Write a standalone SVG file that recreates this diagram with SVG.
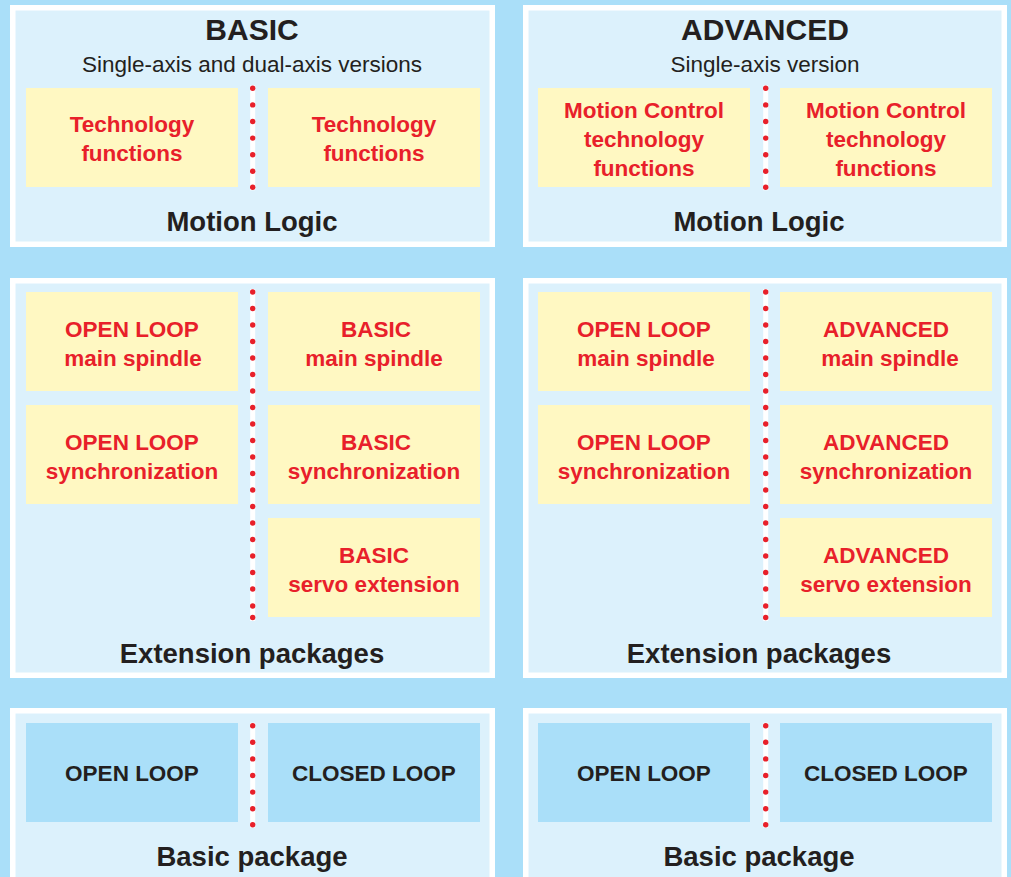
<svg xmlns="http://www.w3.org/2000/svg" width="1011" height="877" viewBox="0 0 1011 877">
<style>
.bg{fill:#aadff9}
.panel{fill:#dcf1fc;stroke:#ffffff;stroke-width:5.5}
.ybox{fill:#fff8c2}
.bbox{fill:#aadff9}
.sep{stroke:#ffffff;stroke-width:5}
.dot{fill:#e8202a}
text{font-family:"Liberation Sans",Arial,sans-serif;text-anchor:middle}
.title{font-size:30px;font-weight:bold;fill:#231f20}
.sub{font-size:22.5px;fill:#231f20}
.red{font-size:22.5px;font-weight:bold;fill:#e8202a}
.dark{font-size:22.5px;font-weight:bold;fill:#231f20}
.foot{font-size:27.5px;font-weight:bold;fill:#231f20}
</style>
<defs>
<g id="dots7"><line class="sep" x1="0" y1="-3" x2="0" y2="102"/><circle class="dot" cx="0" cy="0" r="2.7"/><circle class="dot" cx="0" cy="16.6" r="2.7"/><circle class="dot" cx="0" cy="33.2" r="2.7"/><circle class="dot" cx="0" cy="49.8" r="2.7"/><circle class="dot" cx="0" cy="66.4" r="2.7"/><circle class="dot" cx="0" cy="83" r="2.7"/><circle class="dot" cx="0" cy="99" r="2.7"/></g>
<g id="dots20"><line class="sep" x1="0" y1="-3" x2="0" y2="329"/><circle class="dot" cx="0" cy="0" r="2.7"/><circle class="dot" cx="0" cy="16.5" r="2.7"/><circle class="dot" cx="0" cy="33" r="2.7"/><circle class="dot" cx="0" cy="49.5" r="2.7"/><circle class="dot" cx="0" cy="66" r="2.7"/><circle class="dot" cx="0" cy="82.5" r="2.7"/><circle class="dot" cx="0" cy="99" r="2.7"/><circle class="dot" cx="0" cy="115.5" r="2.7"/><circle class="dot" cx="0" cy="132" r="2.7"/><circle class="dot" cx="0" cy="148.5" r="2.7"/><circle class="dot" cx="0" cy="165" r="2.7"/><circle class="dot" cx="0" cy="181.5" r="2.7"/><circle class="dot" cx="0" cy="198" r="2.7"/><circle class="dot" cx="0" cy="214.5" r="2.7"/><circle class="dot" cx="0" cy="231" r="2.7"/><circle class="dot" cx="0" cy="247.5" r="2.7"/><circle class="dot" cx="0" cy="264" r="2.7"/><circle class="dot" cx="0" cy="280.5" r="2.7"/><circle class="dot" cx="0" cy="297" r="2.7"/><circle class="dot" cx="0" cy="314" r="2.7"/><circle class="dot" cx="0" cy="325.5" r="2.7"/></g>
</defs>
<rect class="bg" x="0" y="0" width="1011" height="877"/>

<!-- Top left panel -->
<g id="basic-motion-logic">
<rect class="panel" x="12.75" y="7.75" width="479.5" height="236.5"/>
<text class="title" x="252" y="40">BASIC</text>
<text class="sub" x="252" y="72">Single-axis and dual-axis versions</text>
<text class="foot" x="252" y="231">Motion Logic</text>
</g>
<g id="basic-tf-1"><rect class="ybox" x="26" y="88" width="212" height="99"/><text class="red" x="132" y="132">Technology</text><text class="red" x="132" y="161">functions</text></g>
<g id="basic-tf-2"><rect class="ybox" x="268" y="88" width="212" height="99"/><text class="red" x="374" y="132">Technology</text><text class="red" x="374" y="161">functions</text></g>

<!-- Top right panel -->
<g id="advanced-motion-logic">
<rect class="panel" x="525.75" y="7.75" width="478.5" height="236.5"/>
<text class="title" x="765" y="40">ADVANCED</text>
<text class="sub" x="765" y="72">Single-axis version</text>
<text class="foot" x="759" y="231">Motion Logic</text>
</g>
<g id="adv-tf-1"><rect class="ybox" x="538" y="88" width="212" height="99"/><text class="red" x="644" y="118">Motion Control</text><text class="red" x="644" y="147">technology</text><text class="red" x="644" y="176">functions</text></g>
<g id="adv-tf-2"><rect class="ybox" x="780" y="88" width="212" height="99"/><text class="red" x="886" y="118">Motion Control</text><text class="red" x="886" y="147">technology</text><text class="red" x="886" y="176">functions</text></g>

<!-- Middle left panel -->
<g id="basic-extension">
<rect class="panel" x="12.75" y="280.75" width="479.5" height="394.5"/>
<text class="foot" x="252" y="663">Extension packages</text>
</g>
<g id="b-ol-spindle"><rect class="ybox" x="26" y="292" width="212" height="99"/><text class="red" x="132" y="337">OPEN LOOP</text><text class="red" x="133" y="366">main spindle</text></g>
<g id="b-ol-sync"><rect class="ybox" x="26" y="405" width="212" height="99"/><text class="red" x="132" y="450">OPEN LOOP</text><text class="red" x="132" y="479">synchronization</text></g>
<g id="b-basic-spindle"><rect class="ybox" x="268" y="292" width="212" height="99"/><text class="red" x="376" y="337">BASIC</text><text class="red" x="374" y="366">main spindle</text></g>
<g id="b-basic-sync"><rect class="ybox" x="268" y="405" width="212" height="99"/><text class="red" x="376" y="450">BASIC</text><text class="red" x="374" y="479">synchronization</text></g>
<g id="b-basic-servo"><rect class="ybox" x="268" y="518" width="212" height="99"/><text class="red" x="374" y="563">BASIC</text><text class="red" x="374" y="592">servo extension</text></g>

<!-- Middle right panel -->
<g id="advanced-extension">
<rect class="panel" x="525.75" y="280.75" width="478.5" height="394.5"/>
<text class="foot" x="759" y="663">Extension packages</text>
</g>
<g id="a-ol-spindle"><rect class="ybox" x="538" y="292" width="212" height="99"/><text class="red" x="644" y="337">OPEN LOOP</text><text class="red" x="646" y="366">main spindle</text></g>
<g id="a-ol-sync"><rect class="ybox" x="538" y="405" width="212" height="99"/><text class="red" x="644" y="450">OPEN LOOP</text><text class="red" x="644" y="479">synchronization</text></g>
<g id="a-adv-spindle"><rect class="ybox" x="780" y="292" width="212" height="99"/><text class="red" x="886" y="337">ADVANCED</text><text class="red" x="890" y="366">main spindle</text></g>
<g id="a-adv-sync"><rect class="ybox" x="780" y="405" width="212" height="99"/><text class="red" x="886" y="450">ADVANCED</text><text class="red" x="886" y="479">synchronization</text></g>
<g id="a-adv-servo"><rect class="ybox" x="780" y="518" width="212" height="99"/><text class="red" x="886" y="563">ADVANCED</text><text class="red" x="886" y="592">servo extension</text></g>

<!-- Bottom panels -->
<g id="basic-package">
<rect class="panel" x="12.75" y="710.75" width="479.5" height="200"/>
<text class="foot" x="252" y="866">Basic package</text>
</g>
<g id="b-open-loop"><rect class="bbox" x="26" y="723" width="212" height="99"/><text class="dark" x="132" y="781">OPEN LOOP</text></g>
<g id="b-closed-loop"><rect class="bbox" x="268" y="723" width="212" height="99"/><text class="dark" x="374" y="781">CLOSED LOOP</text></g>

<g id="advanced-package">
<rect class="panel" x="525.75" y="710.75" width="478.5" height="200"/>
<text class="foot" x="759" y="866">Basic package</text>
</g>
<g id="a-open-loop"><rect class="bbox" x="538" y="723" width="212" height="99"/><text class="dark" x="644" y="781">OPEN LOOP</text></g>
<g id="a-closed-loop"><rect class="bbox" x="780" y="723" width="212" height="99"/><text class="dark" x="886" y="781">CLOSED LOOP</text></g>

<!-- Dotted separators -->
<g id="connectors">
<use href="#dots7" x="252.7" y="88.3"/>
<use href="#dots7" x="765.7" y="88.3"/>
<use href="#dots20" x="252.7" y="292"/>
<use href="#dots20" x="765.7" y="292"/>
<use href="#dots7" x="252.7" y="725.7"/>
<use href="#dots7" x="765.7" y="725.7"/>
</g>
</svg>
